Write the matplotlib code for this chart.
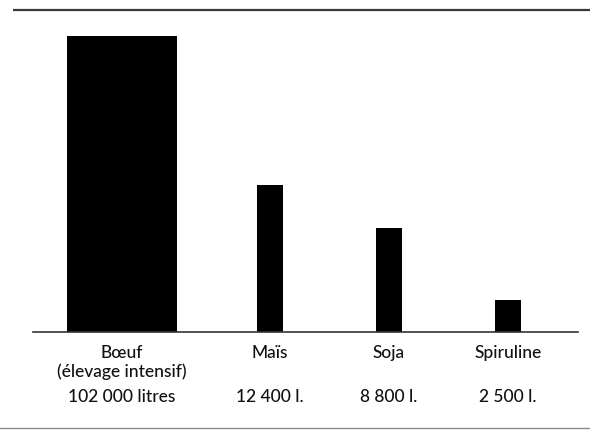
import matplotlib.pyplot as plt

# ---------------------------------- DATA -----------------------------------------
# litres of water needed to produce 1 kg of food
categories = ['Bœuf\n(élevage intensif)', 'Maïs', 'Soja', 'Spiruline']
value_labels = ['102 000 litres', '12 400 l.', '8 800 l.', '2 500 l.']
# bar heights as drawn (the picture is not to scale)
bar_heights = [296, 147, 104, 32]
# ----------------------------------------- END -----------------------------------

# layout, in pixels of the 590x432 picture
x_pos = [122, 270, 389, 508]
bar_w = [110, 26, 26, 26]

plt.rcParams['font.family'] = ['Lato', 'DejaVu Sans']

fig = plt.figure(figsize=(5.9, 4.32), dpi=100)
ax = fig.add_axes([0, 0, 1, 1])
ax.set_xlim(0, 590)
ax.set_ylim(-100, 332)   # baseline at 0, 100 px of room below for labels
ax.axis('off')

ax.bar(x_pos, bar_heights, width=bar_w, color='black', zorder=2)

# rules: top, baseline, bottom
ax.plot([13, 590], [322, 322], color='#3a3a3a', lw=1.6, solid_capstyle='butt')
ax.plot([33, 578], [0, 0], color='#333333', lw=1.2, zorder=3)
ax.plot([0, 590], [-96, -96], color='#8a8a8a', lw=1.0)

for x, cat, val in zip(x_pos, categories, value_labels):
    ax.text(x, -13, cat, ha='center', va='top', fontsize=12.5,
            linespacing=1.18, color='#111111', fontweight='medium')
    ax.text(x, -65, val, ha='center', va='center', fontsize=12.5,
            color='#111111', fontweight='medium')

fig.savefig('out.png', dpi=100, facecolor='white')
